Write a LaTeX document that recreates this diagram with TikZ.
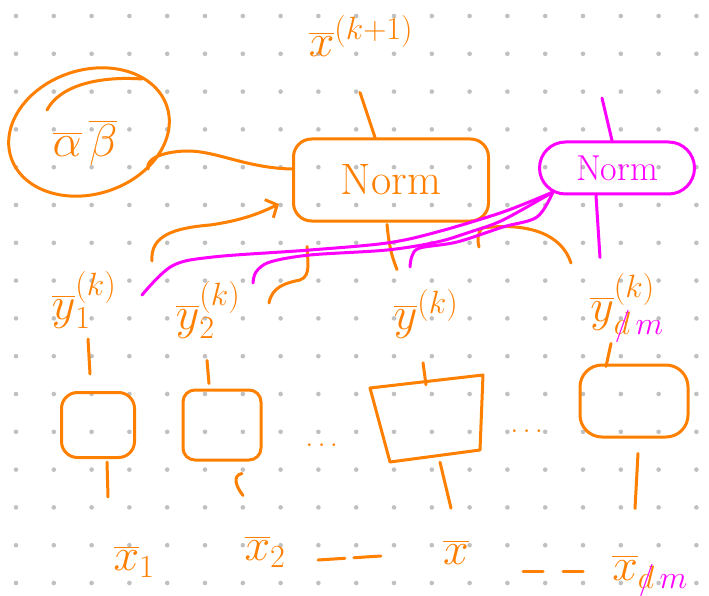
\RequirePackage{fix-cm}
\documentclass[tikz,border=0pt]{standalone}
\usepackage{mathtools}
\usetikzlibrary{shapes.geometric,arrows.meta}
\definecolor{pen}{RGB}{255,128,0}
\definecolor{mag}{RGB}{255,0,255}
\definecolor{dotc}{RGB}{192,192,192}
\newcommand{\crossd}{d\mathllap{\color{mag}/}}
\begin{document}
\begin{tikzpicture}[x=1pt,y=-1pt,
  stroke/.style={draw=pen,line width=3pt,line cap=round,line join=round},
  mstroke/.style={draw=mag,line width=3pt,line cap=round,line join=round},
  lbl/.style={text=pen,inner sep=0pt,font=\fontsize{46}{52}\selectfont},
  normfont/.style={font=\fontsize{44}{50}\selectfont},
  dotsfont/.style={text=pen,inner sep=0pt,font=\fontsize{28}{32}\selectfont},
  tip/.style={-{Straight Barb[length=9pt,width=20pt]}}
]
\useasboundingbox (0,0) rectangle (709,596);
\fill[white] (0,0) rectangle (709,596);
\foreach \i in {0,...,18}{\foreach \j in {0,...,15}{\fill[dotc] ({16+37.8*\i},{16+37.8*\j}) circle (2.3pt);}}

% top
\node[lbl] (xk1) at (361,36) {$\overline{x}^{(k+1)}$};
\node[stroke,ellipse,minimum width=164pt,minimum height=124pt,rotate=18] (ab) at (89,132) {};
\node[lbl] (abt) at (85,143) {$\overline{\alpha}\,\overline{\beta}$};
\node[stroke,rounded corners=18pt,minimum width=195pt,minimum height=82pt,text=pen,normfont] (norm) at (391,180) {Norm};
\node[mstroke,rounded corners=26pt,minimum width=155pt,minimum height=52pt,text=mag,font=\fontsize{36}{40}\selectfont] (normm) at (617,168) {Norm};

% y labels
\node[lbl] (y1) at (84,300) {$\overline{y}_1^{(k)}$};
\node[lbl] (y2) at (208,310) {$\overline{y}_2^{(k)}$};
\node[lbl] (y) at (426,314) {$\overline{y}^{(k)}$};
\node[lbl] (yd) at (627,308) {$\overline{y}^{(k)}_{\crossd\,{\color{mag}m}}$};

% modules
\node[stroke,rounded corners=16pt,minimum width=73pt,minimum height=65pt] (m1) at (98,425) {};
\node[stroke,rounded corners=12pt,minimum width=78pt,minimum height=70pt] (m2) at (222,425) {};
\node[minimum width=105pt,minimum height=82pt,inner sep=0pt] (m3) at (427,420) {};
\draw[stroke] (370,388) -- (483,375) -- (480,450) -- (390,462) -- cycle;
\node[stroke,rounded corners=22pt,minimum width=108pt,minimum height=72pt] (m4) at (634,401) {};

% x labels
\node[lbl] (x1) at (134,562) {$\overline{x}_1$};
\node[lbl] (x2) at (265,552) {$\overline{x}_2$};
\node[lbl] (x) at (456,552) {$\overline{x}$};
\node[lbl] (xd) at (650,576) {$\overline{x}_{\crossd\,{\color{mag}m}}$};

% dots and dashes
\node[dotsfont] (dA) at (324,445) {$\dots$};
\node[dotsfont] (dB) at (529,431) {$\dots$};
\coordinate (dash1a) at (318,560);
\coordinate (dash1b) at (381,556);
\coordinate (dash2a) at (523,571);
\coordinate (dash2b) at (588,571);
\draw[stroke,dash pattern=on 27pt off 9pt] (dash1a) -- (dash1b);
\draw[stroke,dash pattern=on 20pt off 20pt] (dash2a) -- (dash2b);

% vertical connectors (label -> module -> label)
\draw[stroke] ([xshift=-8pt,yshift=17pt]m1.north) -- ++(-2,-35);
\draw[stroke] ([xshift=-13pt,yshift=5pt]m2.north) -- ++(-2,-23);
\draw[stroke] ([xshift=-1pt,yshift=-6pt]m3.north) -- ++(-3,-22);
\draw[stroke] ([xshift=-28pt,yshift=-3pt]m4.north) -- ++(5,-23);
\draw[stroke] ([xshift=9pt,yshift=-3pt]m1.south) -- ++(1,35);
\draw[stroke] ([xshift=20pt,yshift=-12pt]m2.south) .. controls +(-10,2) and +(-7,-9) .. ++(1,22);
\draw[stroke] ([xshift=13pt,yshift=-1pt]m3.south) -- ++(11,46);
\draw[stroke] ([xshift=4pt,yshift=-15pt]m4.south) -- ++(-3,55);

% top connectors
\draw[stroke] ([xshift=-16pt]norm.north) -- ++(-15,-45);
\coordinate (mtop) at (602,98);
\draw[mstroke] (mtop) -- ([xshift=-5pt]normm.north);
\draw[mstroke] ([xshift=-21pt]normm.south) -- ++(4,62);
\draw[stroke] ([yshift=11pt]norm.west) .. controls (245,168) and (215,150) .. (185,151) .. controls (160,152) and (145,160) .. (ab.-50);
\draw[stroke] (47,110) .. controls (60,85) and (100,76) .. (142,79);

% y -> norm connectors
\coordinate (y1s) at (152,261);
\draw[stroke,tip] (y1s) .. controls (150,235) and (175,228) .. (210,225) .. controls (245,220) and (262,212) .. ([xshift=-13pt,yshift=-24pt]norm.west);
\coordinate (y2s) at (269,303);
\draw[stroke] (y2s) .. controls (272,287) and (285,283) .. (300,280) .. controls (312,276) and (307,258) .. ([xshift=-84pt,yshift=-24pt]norm.south);
\draw[stroke] ([xshift=-4pt,yshift=-2pt]norm.south) .. controls +(2,20) and +(-6,-15) .. ++(10,45);
\coordinate (ydarc) at (571,263);
\draw[stroke] (ydarc) .. controls (562,235) and (530,222) .. (482,228) .. controls (478,232) and (477,240) .. (479,247);

% magenta connectors
\coordinate (mo) at (553,192);
\draw[mstroke] plot[smooth,tension=0.55] coordinates {(mo) (503,212) (437,232) (387,243) (310,250) (213,257) (172,266) (142,295)};
\draw[mstroke] plot[smooth,tension=0.55] coordinates {(mo) (503,220) (470,232) (437,242) (387,250) (310,255) (270,262) (256,272) (253,283)};
\draw[mstroke] plot[smooth,tension=0.55] coordinates {(mo) (537,217) (503,227) (457,242) (420,248) (412,256) (410,267)};
\end{tikzpicture}
\end{document}
